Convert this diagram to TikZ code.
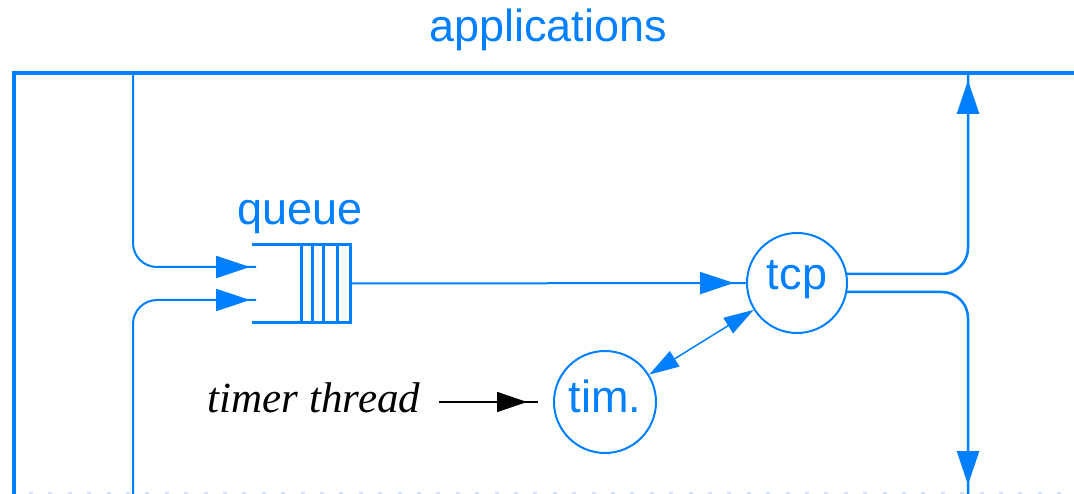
\documentclass[tikz,border=0pt]{standalone}
\usepackage{fontspec}
\setmainfont{Liberation Sans}
\newfontfamily\timesf{Liberation Serif}
\usetikzlibrary{arrows.meta,decorations.markings,calc}
\definecolor{netblue}{RGB}{0,128,255}
\definecolor{dotblue}{RGB}{212,224,255}
\tikzset{
  bigfont/.style={font=\fontsize{45}{52}\selectfont},
  lbl/.style={text=netblue, inner sep=0pt, bigfont},
  proc/.style={circle, draw=netblue, line width=2pt, minimum size=100pt, inner sep=0pt, text=netblue, bigfont},
  conn/.style={draw=netblue, line width=2.5pt},
  frameline/.style={draw=netblue, line width=4pt},
  qline/.style={draw=netblue, line width=3pt},
  tipback/.style={postaction={decorate, decoration={markings,
      mark=at position -#1 with {\arrow{Triangle[length=34pt,width=22pt]}}}}},
  blacktipback/.style={postaction={decorate, decoration={markings,
      mark=at position -#1 with {\arrow{Triangle[length=30pt,width=20pt]}}}}},
}
\begin{document}
\begin{tikzpicture}[x=1pt,y=-1pt]
\useasboundingbox (0,0) rectangle (1074,494);
\clip (0,0) rectangle (1074,494);

% bottom dotted edge
\draw[dotblue, line width=2pt, dash pattern=on 4pt off 15.4pt] (29,493) -- (1074,493);

% outer frame
\draw[frameline] (13.5,500) -- (13.5,73.5) -- (1080,73.5);

% title
\node[lbl, anchor=base] (apps) at (548,42) {applications};

% queue
\node[minimum width=98pt, minimum height=77pt, inner sep=0pt] (queue) at (301,283.5) {};
\draw[qline] (queue.north west) -- (queue.north east) -- (queue.south east) -- (queue.south west);
\foreach \dx in {49.5,60.5,72,86}
  \draw[qline] ($(queue.north west)+(\dx,0)$) -- ($(queue.south west)+(\dx,0)$);
\node[lbl, anchor=base] (qlbl) at (300,225) {queue};

% processes
\node[proc, text height=23pt, text depth=9pt] (tcp) at (797,283) {tcp};
\node[proc, minimum size=102pt, text height=20pt, text depth=0pt] (tim) at (605,402) {tim.};

% timer thread
\node[anchor=base, font=\timesf\itshape\fontsize{43}{50}\selectfont, inner sep=0pt] (timer) at (314,412) {timer thread};

% coordinates of free ends
\coordinate (topA) at (133,73);
\coordinate (botA) at (133,500);
\coordinate (qin1) at (256,267);
\coordinate (qin2) at (256,300);
\coordinate (topB) at (968,73);
\coordinate (botB) at (968,500);
\coordinate (ttin) at (538,402);
\coordinate (ttout) at ($(timer.east |- ttin)+(19,0)$);

% connectors into queue
\draw[conn, line width=2pt, rounded corners=24pt, tipback=6pt] (topA) |- (qin1);
\draw[conn, line width=2pt, rounded corners=24pt, tipback=6pt] (botA) |- (qin2);

% queue to tcp
\draw[conn, line width=2pt, tipback=12pt] (queue.east) -- (tcp.west);

% tcp to applications / network
\draw[conn, rounded corners=26pt, tipback=7pt] ($(tcp.center)+(49,-9)$) -| (topB);
\draw[conn, rounded corners=26pt, tipback=15pt] ($(tcp.center)+(49,9)$) -| (botB);

% tim <-> tcp
\draw[draw=netblue, fill=netblue, line width=1.5pt,
      {Triangle[length=30pt,width=18pt]}-{Triangle[length=30pt,width=18pt]}] (tim) -- (tcp);

% timer thread -> tim
\draw[black, line width=1.5pt, blacktipback=11pt] (ttout) -- (ttin);
\end{tikzpicture}
\end{document}
